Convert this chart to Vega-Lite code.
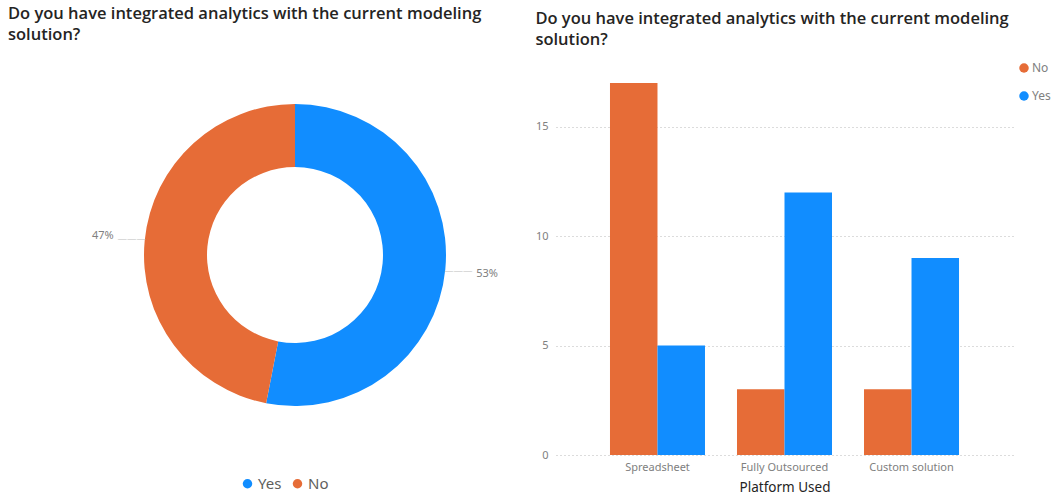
{
  "$schema": "https://vega.github.io/schema/vega-lite/v6.json",
  "padding": {"left": 8, "top": 5, "right": 0, "bottom": 0},
  "autosize": {"type": "pad"},
  "background": "white",
  "spacing": 17,
  "config": {
    "view": {"stroke": null},
    "font": "Open Sans",
    "title": {"anchor": "start", "fontSize": 16.5, "fontWeight": 600, "color": "#252423", "lineHeight": 21, "font": "Open Sans"},
    "axis": {"labelFont": "Noto Sans", "titleFont": "Noto Sans"},
    "legend": {"labelFont": "Noto Sans"}
  },
  "datasets": {
    "bars": [
      {"platform": "Spreadsheet", "answer": "No", "count": 17},
      {"platform": "Spreadsheet", "answer": "Yes", "count": 5},
      {"platform": "Fully Outsourced", "answer": "No", "count": 3},
      {"platform": "Fully Outsourced", "answer": "Yes", "count": 12},
      {"platform": "Custom solution", "answer": "No", "count": 3},
      {"platform": "Custom solution", "answer": "Yes", "count": 9}
    ],
    "donut": [
      {"answer": "Yes", "count": 26, "label": "53%"},
      {"answer": "No", "count": 23, "label": "47%"}
    ]
  },
  "resolve": {"scale": {"color": "independent"}, "legend": {"color": "independent"}},
  "hconcat": [
    {
      "width": 510,
      "height": 344,
      "title": {"text": ["Do you have integrated analytics with the current modeling", "solution?"], "offset": 40},
      "data": {"name": "donut"},
      "encoding": {
        "theta": {"field": "count", "type": "quantitative", "stack": true},
        "order": {"field": "answer", "type": "nominal", "sort": "descending"}
      },
      "layer": [
        {
          "mark": {"type": "arc", "radius": 151, "innerRadius": 88, "xOffset": 32},
          "encoding": {
            "color": {
              "field": "answer", "type": "nominal",
              "scale": {"domain": ["Yes", "No"], "range": ["#118DFF", "#E66C37"]},
              "legend": {"orient": "none", "legendX": 232, "legendY": 393, "direction": "horizontal", "title": null, "symbolType": "circle", "symbolSize": 90, "labelFontSize": 15, "labelColor": "#605E5C", "columnPadding": 8, "labelOffset": 3}
            }
          }
        },
        {
          "mark": {"type": "text", "radius": 164, "xOffset": 32, "text": "———", "fontSize": 9.5, "color": "#c0c0c0"}
        },
        {
          "mark": {"type": "text", "radius": 193, "xOffset": 32, "fontSize": 11, "color": "#808080", "font": "Noto Sans"},
          "encoding": {"text": {"field": "label", "type": "nominal"}}
        }
      ]
    },
    {
      "width": 457,
      "height": 372,
      "title": {"text": ["Do you have integrated analytics with the current modeling", "solution?"], "offset": 14},
      "data": {"name": "bars"},
      "mark": {"type": "bar"},
      "encoding": {
        "x": {
          "field": "platform", "type": "nominal",
          "sort": ["Spreadsheet", "Fully Outsourced", "Custom solution"],
          "scale": {"paddingInner": 0.252, "paddingOuter": 0.425},
          "axis": {"title": "Platform Used", "labelAngle": 0, "domain": false, "ticks": false, "labelColor": "#808080", "labelFontSize": 11, "titleFontSize": 13.5, "titleColor": "#252423", "titleFontWeight": "normal", "labelPadding": 6, "titlePadding": 8}
        },
        "xOffset": {"field": "answer", "type": "nominal", "sort": ["No", "Yes"]},
        "y": {
          "field": "count", "type": "quantitative",
          "scale": {"domain": [0, 17], "nice": false},
          "axis": {"values": [0, 5, 10, 15], "title": null, "domain": false, "ticks": false, "gridDash": [1, 3], "gridColor": "#b8b8b8", "labelColor": "#808080", "labelFontSize": 11, "labelPadding": 8}
        },
        "color": {
          "field": "answer", "type": "nominal",
          "scale": {"domain": ["No", "Yes"], "range": ["#E66C37", "#118DFF"]},
          "legend": {"orient": "none", "legendX": 462, "legendY": -21, "direction": "vertical", "title": null, "symbolType": "circle", "symbolSize": 90, "labelFontSize": 12, "labelColor": "#808080", "rowPadding": 16, "labelOffset": 2}
        }
      }
    }
  ]
}
